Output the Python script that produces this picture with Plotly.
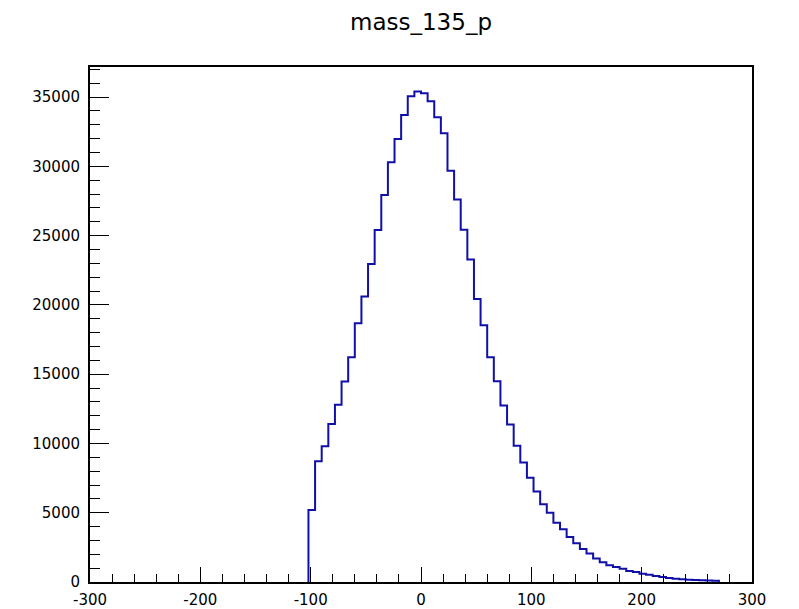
import numpy as np
import plotly.graph_objects as go

# Histogram "mass_135_p": 62 filled bins of width 6, first low edge at -102
bin_low = -102
bin_width = 6
counts = [
    5200, 8720, 9800, 11400, 12790, 14470, 16220, 18670, 20600, 22960,
    25410, 27940, 30290, 31980, 33710, 35050, 35400, 35270, 34690, 33540,
    32380, 29690, 27600, 25430, 23270, 20430, 18530, 16220, 14490, 12730,
    11360, 9830, 8630, 7530, 6540, 5620, 5000, 4280, 3800, 3250,
    2800, 2380, 2050, 1700, 1420, 1200, 1080, 950, 800, 720,
    600, 520, 430, 360, 280, 230, 190, 160, 140, 120,
    110, 90,
]
x_ticks = [-300, -200, -100, 0, 100, 200, 300]
y_ticks = [0, 5000, 10000, 15000, 20000, 25000, 30000, 35000]

edges = bin_low + bin_width * np.arange(len(counts) + 1)
xs = [edges[0]] + list(edges)
ys = [0] + list(counts) + [0]

y_max = max(counts) * 1.05

fig = go.Figure()
fig.add_trace(go.Scatter(
    x=xs, y=ys, mode="lines", line=dict(shape="hv", color="#1010a8", width=2),
    hoverinfo="skip", showlegend=False,
))

font = dict(family="DejaVu Sans, Liberation Sans, Arial", size=15, color="black")

fig.update_layout(
    width=799, height=609,
    margin=dict(l=90, r=47, t=67, b=27),
    paper_bgcolor="white", plot_bgcolor="white",
    title=dict(text="mass_135_p", x=0.5, xref="paper", y=1 - 22 / 609, yref="container",
               xanchor="center", yanchor="middle",
               font=dict(family="DejaVu Sans, Liberation Sans, Arial", size=23, color="black")),
    font=font,
)
fig.update_xaxes(
    range=[-300, 300], tickvals=x_ticks, ticktext=[str(v) for v in x_ticks],
    ticks="inside", ticklen=15, tickwidth=1, tickcolor="black",
    minor=dict(ticks="inside", ticklen=8, dtick=20, tick0=0, tickcolor="black", tickwidth=1),
    showline=True, linecolor="black", linewidth=2, mirror=True,
    showgrid=False, zeroline=False, tickfont=font, ticklabelstandoff=3,
    automargin=False,
)
fig.update_yaxes(
    range=[0, y_max], tickvals=y_ticks, ticktext=[str(v) for v in y_ticks],
    ticks="inside", ticklen=19, tickwidth=1, tickcolor="black",
    minor=dict(ticks="inside", ticklen=10, dtick=1000, tick0=0, tickcolor="black", tickwidth=1),
    showline=True, linecolor="black", linewidth=2, mirror=True,
    showgrid=False, zeroline=False, tickfont=font, ticklabelstandoff=5,
    automargin=False,
)

fig.write_html("out.html")
